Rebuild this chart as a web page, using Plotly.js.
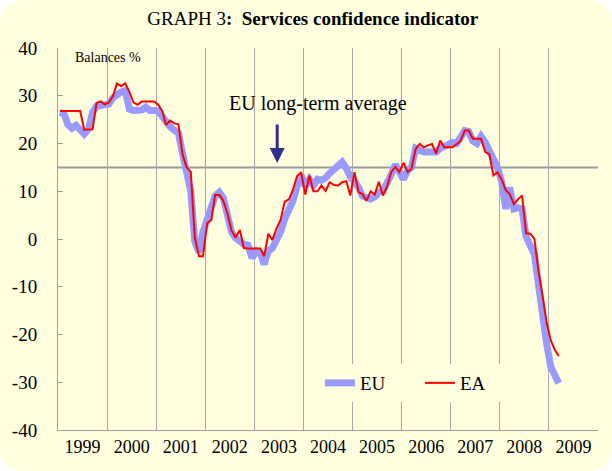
<!DOCTYPE html>
<html>
<head>
<meta charset="utf-8">
<script src="https://cdn.plot.ly/plotly-3.0.1.min.js"></script>
<style>
  html, body { margin: 0; padding: 0; background: #ffffff; }
  #wrap { width: 612px; height: 471px; background: #FFFFE0; border-radius: 22px; overflow: hidden; }
  #chart { width: 612px; height: 471px; }
</style>
</head>
<body>
<div id="wrap"><div id="chart"></div></div>
<script>
// Monthly series, Jan 1999 .. Mar 2009 (balances, %)
const startYear = 1999;
const startMonth = 1;

const euValues = [
  26.5, 26.2, 24.0, 23.2, 23.8, 22.6, 22.0, 23.0, 26.5, 27.8, 28.0, 28.0,   // 1999
  28.3, 29.6, 30.3, 30.8, 31.1, 27.2, 26.9, 26.9, 27.0, 27.6, 26.9, 26.9,   // 2000
  26.8, 25.7, 24.5, 23.5, 22.8, 22.2, 18.0, 14.3, 10.0, -0.5, -2.8, 1.5,    // 2001
  3.8, 6.0, 9.0, 9.8, 8.6, 5.0, 1.5, 0.2, -0.5, -1.1, -1.3, -4.0,           // 2002
  -2.5, -3.0, -5.3, -2.5, -1.9, -0.5, 1.5, 4.2, 6.2, 8.0, 11.0, 13.4,       // 2003
  11.0, 12.5, 11.2, 12.5, 12.3, 12.8, 13.8, 14.6, 15.3, 16.1, 14.8, 13.0,   // 2004
  12.0, 10.8, 9.0, 8.6, 8.4, 8.8, 9.8, 10.0, 11.5, 13.5, 15.6, 14.2,        // 2005
  12.5, 14.4, 15.0, 19.0, 18.6, 18.2, 18.2, 18.2, 18.2, 19.0, 19.5, 20.1,   // 2006
  20.2, 20.0, 21.5, 22.7, 22.5, 20.5, 20.0, 21.5, 20.2, 18.6, 16.2, 15.0,   // 2007
  12.0, 6.3, 10.8, 6.3, 6.5, 6.3, 0.5, -1.0, -3.2, -9.5, -16.5, -22.0,      // 2008
  -26.8, -28.3, -30.2                                                       // 2009
];

const eaValues = [
  26.8, 26.8, 26.8, 26.8, 26.8, 26.8, 22.9, 22.9, 23.0, 28.5, 28.8, 28.2,   // 1999
  28.6, 30.0, 32.6, 32.0, 32.6, 30.8, 28.6, 28.1, 28.8, 28.8, 28.8, 28.8,   // 2000
  28.2, 26.8, 23.9, 24.8, 24.2, 24.0, 17.8, 15.0, 14.1, 0.3, -3.6, -3.6,    // 2001
  3.3, 4.0, 9.2, 9.2, 8.0, 5.3, 1.8, 0.3, 1.9, -1.9, -2.0, -2.0,            // 2002
  -2.0, -2.0, -3.6, 1.1, -0.2, 2.2, 4.0, 7.8, 8.3, 10.3, 13.2, 14.0,        // 2003
  9.3, 13.3, 10.0, 10.0, 11.2, 10.1, 11.9, 11.3, 11.2, 11.9, 12.1, 9.1,     // 2004
  14.0, 9.8, 9.4, 8.0, 10.0, 9.3, 12.0, 9.1, 11.0, 14.0, 15.1, 14.0,        // 2005
  16.0, 14.0, 14.7, 18.8, 19.9, 19.2, 19.6, 19.9, 17.9, 20.6, 19.2, 19.2,   // 2006
  19.2, 19.9, 20.5, 22.7, 22.7, 21.0, 21.0, 21.0, 18.2, 17.8, 13.3, 14.0,   // 2007
  12.5, 10.2, 9.4, 7.3, 8.3, 9.1, 1.2, 1.1, 0.0, -6.7, -12.0, -17.5,        // 2008
  -21.3, -23.3, -24.5                                                       // 2009
];

const seriesNames = ["EU", "EA"];
const longTermAverage = 15;
const yTickValues = [-40, -30, -20, -10, 0, 10, 20, 30, 40];
const yTickLabels = ["-40", "-30", "-20", "-10", "0", "10", "20", "30", "40"];
const xRange = ["1999-01-01", "2010-01-01"];

function monthDates(n) {
  const out = [];
  for (let i = 0; i < n; i++) {
    const m0 = startMonth - 1 + i;
    const y = startYear + Math.floor(m0 / 12);
    const m = (m0 % 12) + 1;
    out.push(y + "-" + String(m).padStart(2, "0") + "-15");
  }
  return out;
}

const serif = "Liberation Serif, Times New Roman, serif";
const bg = "#FFFFE0";

const traces = [
  {
    x: monthDates(euValues.length), y: euValues, name: seriesNames[0],
    type: "scatter", mode: "lines",
    line: { color: "#9999FF", width: 7 }
  },
  {
    x: monthDates(eaValues.length), y: eaValues, name: seriesNames[1],
    type: "scatter", mode: "lines",
    line: { color: "#FF0000", width: 2 }
  }
];

const layout = {
  width: 612, height: 471,
  margin: { l: 58, r: 14, t: 48, b: 41 },
  paper_bgcolor: "rgba(0,0,0,0)",
  plot_bgcolor: "rgba(0,0,0,0)",
  font: { family: serif, color: "#000000", size: 17 },
  title: {
    text: "GRAPH 3<b>:  Services confidence indicator</b>",
    font: { family: serif, size: 19, color: "#000000" },
    x: 0.511, xanchor: "center", xref: "container",
    y: 0.962, yanchor: "middle", yref: "container"
  },
  xaxis: {
    type: "date",
    range: xRange,
    tick0: "1999-01-01", dtick: "M12",
    ticklabelmode: "period",
    tickformat: "%Y",
    ticks: "",
    showgrid: true, gridcolor: "#A8A8A8", gridwidth: 1,
    showline: true, linecolor: "#A0A0A0", linewidth: 1,
    zeroline: false,
    tickfont: { family: serif, size: 18, color: "#000000" },
    fixedrange: true
  },
  yaxis: {
    range: [-40, 40],
    tickmode: "array", tickvals: yTickValues, ticktext: yTickLabels,
    ticks: "inside", ticklen: 5, tickcolor: "#A0A0A0",
    ticklabelstandoff: 16,
    showgrid: false, zeroline: false,
    showline: true, linecolor: "#A0A0A0", linewidth: 1,
    tickfont: { family: serif, size: 19, color: "#000000" },
    fixedrange: true
  },
  shapes: [
    {
      type: "line", xref: "paper", x0: 0, x1: 1,
      yref: "y", y0: longTermAverage, y1: longTermAverage,
      line: { color: "#999999", width: 2 }, layer: "below"
    }
  ],
  annotations: [
    {
      text: "Balances %", xref: "paper", yref: "paper",
      x: 0.028, y: 0.976, xanchor: "left", yanchor: "middle",
      showarrow: false, font: { family: serif, size: 14, color: "#000000" }
    },
    {
      text: "EU long-term average", xref: "paper", yref: "paper",
      x: 0.482, y: 0.856, xanchor: "center", yanchor: "middle",
      showarrow: false, font: { family: serif, size: 20, color: "#000000" }
    },
    {
      text: "", xref: "x", yref: "y",
      x: "2003-06-20", y: 15.9,
      showarrow: true, ax: 0, ay: -40,
      arrowhead: 2, arrowsize: 1, arrowwidth: 3, arrowcolor: "#2E3192",
      standoff: 0
    }
  ],
  showlegend: true,
  legend: {
    orientation: "h",
    x: 0.485, xanchor: "left",
    y: 0.123, yanchor: "middle",
    bgcolor: bg,
    entrywidth: 55, entrywidthmode: "pixels",
    font: { family: serif, size: 19, color: "#000000" },
    tracegroupgap: 0
  }
};

Plotly.newPlot("chart", traces, layout, { displayModeBar: false, staticPlot: true });
</script>
</body>
</html>
